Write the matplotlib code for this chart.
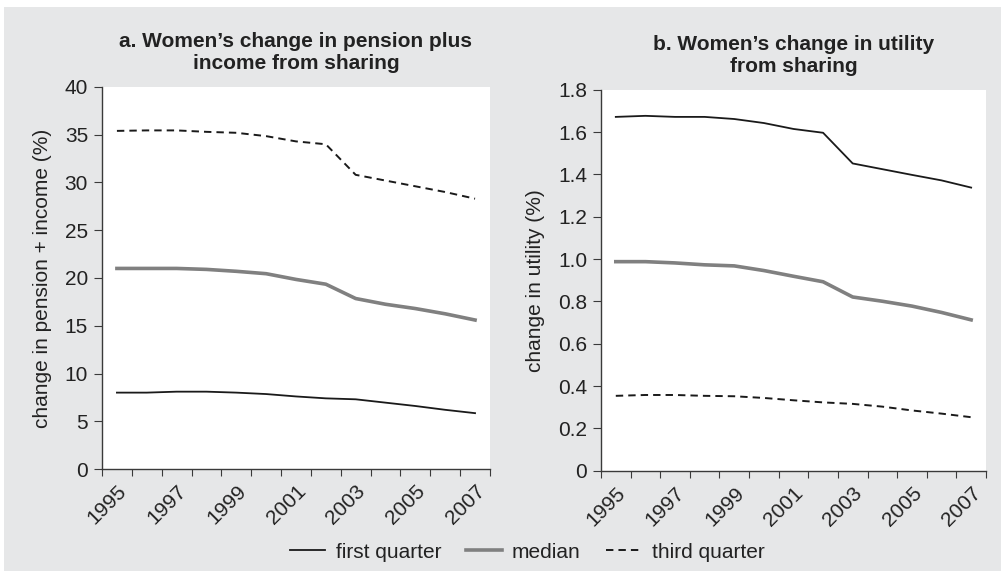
import numpy as np
import matplotlib
matplotlib.use('Agg')
import matplotlib.pyplot as plt
from matplotlib.patches import Rectangle

plt.rcParams['font.family'] = ['Liberation Sans', 'DejaVu Sans']

years = [1995, 1996, 1997, 1998, 1999, 2000, 2001, 2002, 2003, 2004, 2005, 2006, 2007]

# panel a: change in pension + income (%)
pen_first = [8.0, 8.0, 8.1, 8.1, 8.0, 7.85, 7.6, 7.4, 7.3, 6.95, 6.6, 6.2, 5.85]
pen_median = [21.0, 21.0, 21.0, 20.9, 20.7, 20.45, 19.85, 19.35, 17.85, 17.25, 16.8, 16.25, 15.6]
pen_third = [35.4, 35.45, 35.45, 35.3, 35.2, 34.85, 34.3, 34.0, 30.8, 30.2, 29.6, 29.0, 28.3]

# panel b: change in utility (%)
util_first = [1.672, 1.677, 1.672, 1.672, 1.662, 1.643, 1.615, 1.597, 1.452, 1.425, 1.398, 1.372, 1.338]
util_median = [0.988, 0.988, 0.982, 0.973, 0.968, 0.946, 0.919, 0.893, 0.821, 0.801, 0.778, 0.748, 0.713]
util_third = [0.354, 0.358, 0.358, 0.354, 0.352, 0.344, 0.333, 0.323, 0.316, 0.303, 0.285, 0.270, 0.253]

BG = '#e6e7e8'
SPINE = '#3a3a3a'
FS = 15


def style_axis(ax, yticks, yticklabels, ylim):
    x = np.arange(len(years))
    ax.set_facecolor('white')
    ax.set_xlim(-0.5, len(years) - 0.5)
    ax.set_ylim(*ylim)
    for s in ['top', 'right']:
        ax.spines[s].set_visible(False)
    for s in ['left', 'bottom']:
        ax.spines[s].set_color(SPINE)
        ax.spines[s].set_linewidth(1.0)
    # tick marks between categories, labels on every other year
    ax.set_xticks(np.arange(-0.5, len(years), 1.0))
    ax.set_xticklabels([])
    ax.set_xticks(x[::2], minor=True)
    ax.set_xticklabels([str(y) for y in years[::2]], minor=True,
                       rotation=45, ha='right', rotation_mode='anchor', fontsize=FS)
    ax.tick_params(axis='x', which='major', length=5, direction='out', color=SPINE)
    ax.tick_params(axis='x', which='minor', length=0, pad=9)
    ax.set_yticks(yticks)
    ax.set_yticklabels(yticklabels, fontsize=FS, color='#222222')
    ax.tick_params(axis='y', length=6, direction='out', color=SPINE, pad=4)
    for lab in ax.get_xticklabels(minor=True):
        lab.set_color('#222222')


def draw(ax, first, median, third):
    x = np.arange(len(years))
    l1, = ax.plot(x, first, color='#1a1a1a', lw=1.3, label='first quarter')
    l2, = ax.plot(x, median, color='#808080', lw=2.6, label='median')
    l3, = ax.plot(x, third, color='#1a1a1a', lw=1.4, dashes=(3.8, 2.6), label='third quarter')
    return [l1, l2, l3]


fig = plt.figure(figsize=(10.03, 5.72), dpi=100)
fig.patch.set_facecolor('white')
fig.patches.append(Rectangle((4 / 1003, 1 - 571 / 572), 997 / 1003, 564 / 572,
                             transform=fig.transFigure, facecolor=BG,
                             edgecolor='none', zorder=-10))

ax1 = fig.add_axes([0.1017, 0.180, 0.3868, 0.668])
ax2 = fig.add_axes([0.5992, 0.177, 0.3838, 0.666])

handles = draw(ax1, pen_first, pen_median, pen_third)
style_axis(ax1, np.arange(0, 41, 5), [str(v) for v in range(0, 41, 5)], (0, 40))
ax1.set_ylabel('change in pension + income (%)', fontsize=FS, labelpad=9, color='#222222')
ax1.set_title('a. Women\u2019s change in pension plus\nincome from sharing',
              fontsize=FS, fontweight='bold', pad=13, linespacing=1.2, color='#222222')

draw(ax2, util_first, util_median, util_third)
uticks = np.round(np.arange(0, 1.81, 0.2), 1)
style_axis(ax2, uticks, ['0'] + ['%.1f' % v for v in uticks[1:]], (0, 1.8))
ax2.set_ylabel('change in utility (%)', fontsize=FS, labelpad=9, color='#222222')
ax2.set_title('b. Women\u2019s change in utility\nfrom sharing',
              fontsize=FS, fontweight='bold', pad=13, linespacing=1.2, color='#222222')

fig.legend(handles=handles, loc='center', bbox_to_anchor=(527 / 1003, 1 - 552 / 572),
           ncol=3, frameon=False, fontsize=FS, handlelength=1.7,
           columnspacing=1.2, handletextpad=0.5, labelcolor='#222222')

plt.savefig('out.png', dpi=100, facecolor=fig.get_facecolor())
